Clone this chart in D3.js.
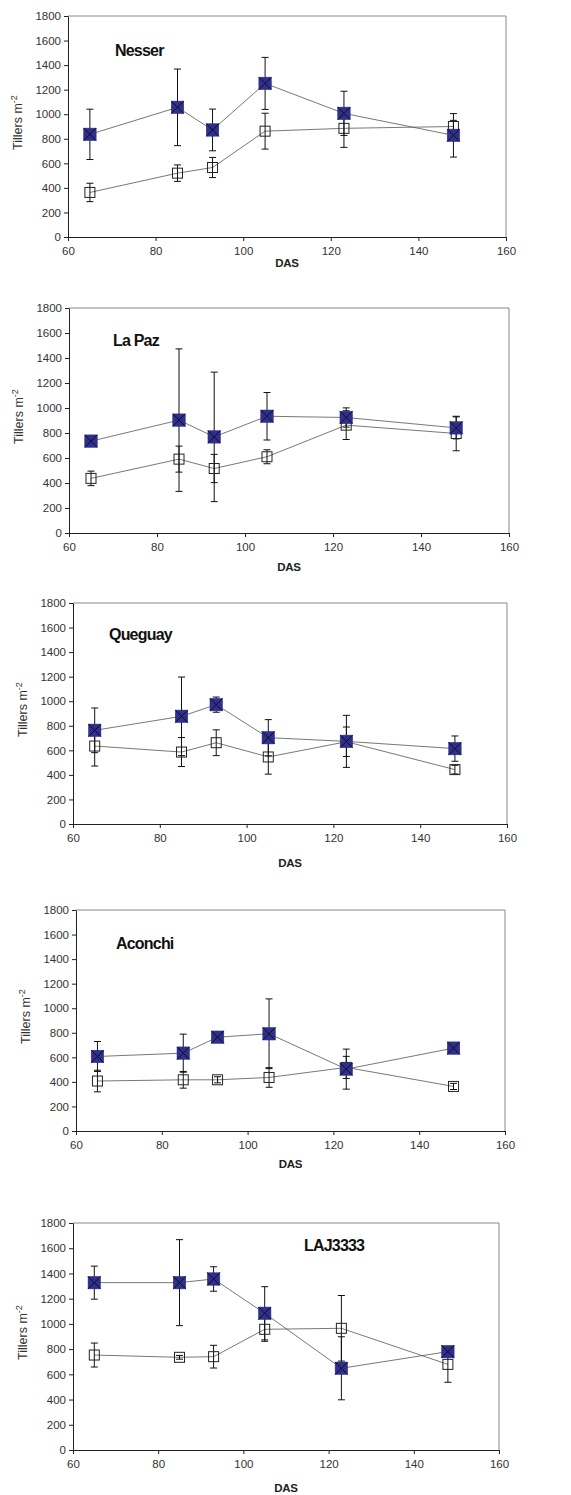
<!DOCTYPE html>
<html>
<head>
<meta charset="utf-8">
<script src="https://cdn.jsdelivr.net/npm/d3@7"></script>
<style>
  body { margin: 0; background: #fff; }
  svg { display: block; font-family: "Liberation Sans", Arial, sans-serif; }
  .axis text { fill: #333; font-size: 11.5px; }
  .axis path, .axis line { stroke: #222; }
</style>
</head>
<body>
<div id="chart"></div>
<script>
// sampling dates (days after sowing)
const das = [65, 85, 93, 105, 123, 148];
const xTicks = [60, 80, 100, 120, 140, 160];
const yTicks = [0, 200, 400, 600, 800, 1000, 1200, 1400, 1600, 1800];
const cultivars = ["Nesser", "La Paz", "Queguay", "Aconchi", "LAJ3333"];

// filled squares (with x) and their error half-widths
const nesserFilled = [836, 1056, 872, 1251, 1007, 828];
const nesserFilledErr = [205, 312, 170, 212, 180, 177];
const nesserOpen = [363, 520, 566, 862, 885, 900];
const nesserOpenErr = [75, 67, 82, 146, 155, 50];

const lapazFilled = [735, 903, 769, 934, 924, 841];
const lapazFilledErr = [30, 570, 518, 190, 77, 88];
const lapazOpen = [437, 591, 516, 610, 863, 796];
const lapazOpenErr = [58, 104, 113, 56, 115, 138];

const queguayFilled = [763, 877, 972, 703, 673, 614];
const queguayFilledErr = [182, 320, 62, 147, 212, 103];
const queguayOpen = [635, 586, 662, 546, 670, 443];
const queguayOpenErr = [163, 118, 105, 140, 120, 35];

const aconchiFilled = [607, 634, 764, 792, 504, 675];
const aconchiFilledErr = [122, 155, 20, 284, 163, 20];
const aconchiOpen = [407, 417, 417, 436, 518, 363];
const aconchiOpenErr = [88, 68, 25, 80, 90, 25];

const lajFilled = [1327, 1327, 1356, 1084, 648, 780];
const lajFilledErr = [131, 341, 97, 211, 250, 40];
const lajOpen = [753, 735, 740, 957, 965, 679];
const lajOpenErr = [95, 15, 90, 95, 260, 142];

const filledMeans = [nesserFilled, lapazFilled, queguayFilled, aconchiFilled, lajFilled];
const filledErrs = [nesserFilledErr, lapazFilledErr, queguayFilledErr, aconchiFilledErr, lajFilledErr];
const openMeans = [nesserOpen, lapazOpen, queguayOpen, aconchiOpen, lajOpen];
const openErrs = [nesserOpenErr, lapazOpenErr, queguayOpenErr, aconchiOpenErr, lajOpenErr];

// panel frames in page pixels
const frames = [
  { left: 68, right: 506, top: 16, bottom: 237, tx: 115, ty: 56, dasDy: 30 },
  { left: 69, right: 509, top: 308, bottom: 533, tx: 113, ty: 346, dasDy: 38 },
  { left: 73, right: 507, top: 603, bottom: 824, tx: 109, ty: 640, dasDy: 43 },
  { left: 76, right: 505, top: 910, bottom: 1131, tx: 116, ty: 949, dasDy: 37 },
  { left: 73, right: 499, top: 1223, bottom: 1450, tx: 304, ty: 1251, dasDy: 42 }
];

const width = 571, height = 1495;
const blue = "#2e2f8e";

const svg = d3.select("#chart").append("svg")
  .attr("width", width).attr("height", height);

cultivars.forEach((name, i) => {
  const f = frames[i];
  const x = d3.scaleLinear().domain([60, 160]).range([f.left, f.right]);
  const y = d3.scaleLinear().domain([0, 1800]).range([f.bottom, f.top]);
  const g = svg.append("g");

  // box top/right
  g.append("path")
    .attr("d", `M${f.left},${f.top}H${f.right}V${f.bottom}`)
    .attr("fill", "none").attr("stroke", "#888").attr("stroke-width", 1);

  g.append("g").attr("class", "axis")
    .attr("transform", `translate(0,${f.bottom})`)
    .call(d3.axisBottom(x).tickValues(xTicks).tickFormat(d3.format("d"))
      .tickSize(4).tickPadding(6).tickSizeOuter(0));
  g.append("g").attr("class", "axis")
    .attr("transform", `translate(${f.left},0)`)
    .call(d3.axisLeft(y).tickValues(yTicks).tickFormat(d3.format("d"))
      .tickSize(4).tickPadding(3).tickSizeOuter(0));

  // axis titles
  g.append("text")
    .attr("x", (f.left + f.right) / 2).attr("y", f.bottom + f.dasDy)
    .attr("text-anchor", "middle").attr("font-size", 11.5).attr("font-weight", "bold")
    .attr("letter-spacing", -0.3).attr("fill", "#222").text("DAS");
  const yl = g.append("text")
    .attr("transform", `translate(${f.left - 46},${(f.top + f.bottom) / 2 - 4}) rotate(-90)`)
    .attr("text-anchor", "middle").attr("font-size", 12.5).attr("fill", "#333");
  yl.append("tspan").text("Tillers m");
  yl.append("tspan").attr("dy", -5).attr("font-size", 9).text("-2");

  // cultivar name
  g.append("text")
    .attr("x", f.tx).attr("y", f.ty)
    .attr("font-size", 16).attr("font-weight", "bold").attr("letter-spacing", -0.8)
    .attr("fill", "#111").text(name);

  const series = [
    { means: openMeans[i], errs: openErrs[i], filled: false },
    { means: filledMeans[i], errs: filledErrs[i], filled: true }
  ];

  const line = d3.line().x(d => x(d.das)).y(d => y(d.v));

  series.forEach(s => {
    const pts = das.map((d, k) => ({ das: d, v: s.means[k], e: s.errs[k] }));
    g.append("path").datum(pts)
      .attr("d", line).attr("fill", "none")
      .attr("stroke", "#555").attr("stroke-width", 0.8);
  });

  series.forEach(s => {
    const pts = das.map((d, k) => ({ das: d, v: s.means[k], e: s.errs[k] }));
    const eb = g.append("g").attr("stroke", "#111").attr("stroke-width", 1);
    eb.selectAll("line.v").data(pts).join("line")
      .attr("x1", d => x(d.das)).attr("x2", d => x(d.das))
      .attr("y1", d => y(d.v - d.e)).attr("y2", d => y(d.v + d.e));
    eb.selectAll("line.t").data(pts).join("line")
      .attr("x1", d => x(d.das) - 3.5).attr("x2", d => x(d.das) + 3.5)
      .attr("y1", d => y(d.v + d.e)).attr("y2", d => y(d.v + d.e));
    eb.selectAll("line.b").data(pts).join("line")
      .attr("x1", d => x(d.das) - 3.5).attr("x2", d => x(d.das) + 3.5)
      .attr("y1", d => y(d.v - d.e)).attr("y2", d => y(d.v - d.e));
  });

  series.forEach(s => {
    const pts = das.map((d, k) => ({ das: d, v: s.means[k] }));
    const size = s.filled ? 12.5 : 10;
    const m = g.append("g").selectAll("g").data(pts).join("g")
      .attr("transform", d => `translate(${x(d.das)},${y(d.v)})`);
    m.append("rect")
      .attr("x", -size / 2).attr("y", -size / 2)
      .attr("width", size).attr("height", size)
      .attr("fill", s.filled ? blue : "none")
      .attr("stroke", s.filled ? blue : "#222").attr("stroke-width", s.filled ? 0.5 : 1);
    if (s.filled) {
      m.append("path")
        .attr("d", `M${-size / 2},${-size / 2}L${size / 2},${size / 2}M${size / 2},${-size / 2}L${-size / 2},${size / 2}`)
        .attr("stroke", "#111").attr("stroke-width", 1);
    }
  });
});
</script>
</body>
</html>
